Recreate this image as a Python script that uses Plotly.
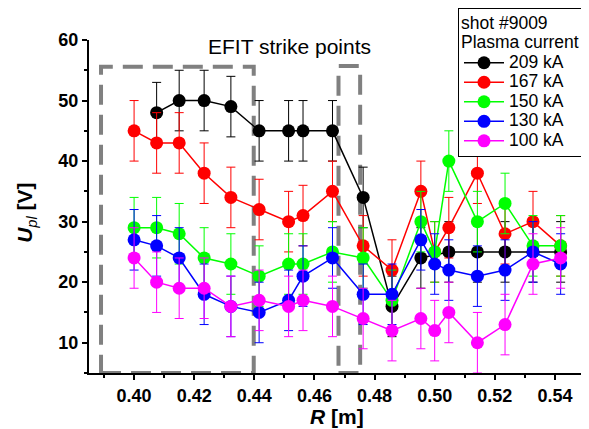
import plotly.graph_objects as go

# R positions (m)
R_all = [0.400, 0.4075, 0.415, 0.4233, 0.4322, 0.4416, 0.4514, 0.4562, 0.466,
         0.4762, 0.4858, 0.4954, 0.500, 0.5047, 0.5142, 0.5234, 0.5327, 0.5419]
R_209 = [0.4075, 0.415, 0.4233, 0.4322, 0.4416, 0.4514, 0.4562, 0.466,
         0.4762, 0.4858, 0.4954, 0.5047, 0.5142, 0.5234, 0.5327, 0.5419]

U_209 = [48, 50, 50, 49, 45, 45, 45, 45, 34, 16, 24, 25, 25, 25, 25, 25]
U_167 = [45, 43, 43, 38, 34, 32, 30, 31, 35, 26, 22, 35, 25, 29, 38, 28, 30, 26]
U_150 = [29, 29, 28, 24, 23, 21, 23, 23, 25, 24, 17, 30, 25, 40, 30, 33, 26, 26]
U_130 = [27, 26, 24, 18, 16, 15, 17, 21, 24, 18, 18, 27, 23, 22, 21, 22, 25, 23]
U_100 = [24, 20, 19, 19, 16, 17, 16, 17, 16, 14, 12, 14, 12, 15, 10, 13, 23, 24]

ERR_209 = [5] * len(U_209)
ERR_ALL = [5] * len(R_all)

labels = ["209 kA", "167 kA", "150 kA", "130 kA", "100 kA"]
colors = ["#000000", "#ff0000", "#00ff00", "#0000ff", "#ff00ff"]

# EFIT strike point boxes (R range, U range)
box_R0 = [0.389, 0.468]
box_R1 = [0.4398, 0.4752]
box_U0 = [5, 5]
box_U1 = [55.6, 55.7]

series = [
    (R_209, U_209, ERR_209),
    (R_all, U_167, ERR_ALL),
    (R_all, U_150, ERR_ALL),
    (R_all, U_130, ERR_ALL),
    (R_all, U_100, ERR_ALL),
]

FONT = "Liberation Sans, Arial, sans-serif"
PAD = "\u00a0" * 4

fig = go.Figure()
for (xs, ys, es), lab, col in zip(series, labels, colors):
    fig.add_trace(go.Scatter(
        x=xs, y=ys, mode="lines+markers",
        name='<span style="font-size:17.5px">' + lab + PAD + "</span>",
        line=dict(color=col, width=1.5),
        marker=dict(color=col, size=13),
        error_y=dict(type="data", array=es, visible=True, color=col,
                     thickness=1, width=4.5),
        cliponaxis=True,
    ))

for x0, x1, y0, y1 in zip(box_R0, box_R1, box_U0, box_U1):
    fig.add_shape(type="rect", xref="x", yref="y", x0=x0, x1=x1, y0=y0, y1=y1,
                  line=dict(color="#808080", width=4, dash="20px,10px"),
                  layer="below")

fig.add_annotation(text="EFIT strike points", xref="paper", yref="paper",
                   x=0.405, y=0.98, xanchor="center", yanchor="middle",
                   showarrow=False, font=dict(family=FONT, size=21, color="black"))

# axis titles
fig.add_annotation(text="<b><i>R</i> [m]</b>", xref="paper", yref="paper",
                   x=0.5, y=0, xanchor="center", yanchor="middle", yshift=-43,
                   showarrow=False, font=dict(family=FONT, size=21, color="black"))
fig.add_annotation(text="<b><i>U</i></b><sub><i>pl</i></sub><b> [V]</b>",
                   xref="paper", yref="paper", x=0, y=0.481, xanchor="center",
                   yanchor="middle", xshift=-63, textangle=-90,
                   showarrow=False, font=dict(family=FONT, size=21, color="black"))

axis_font = dict(family=FONT, size=18, color="black", weight="bold")

fig.update_layout(
    width=581, height=421,
    margin=dict(l=81, r=4, t=32, b=56, autoexpand=False),
    paper_bgcolor="white", plot_bgcolor="white",
    font=dict(family=FONT, color="black"),
    showlegend=True,
    legend=dict(
        xref="container", yref="container",
        x=1, y=1, xanchor="right", yanchor="top",
        bordercolor="black", borderwidth=1, bgcolor="white",
        font=dict(family=FONT, size=12.7, color="black"),
        title=dict(text='<span style="font-size:17.5px">shot #9009<br>Plasma current</span>',
                   font=dict(family=FONT, size=15)),
        tracegroupgap=0, itemwidth=40,
    ),
    xaxis=dict(
        range=[0.385, 0.55], showgrid=False, zeroline=False, automargin=False,
        showline=True, linecolor="black", linewidth=2,
        ticks="outside", ticklen=5, tickwidth=2, tickcolor="black",
        tick0=0.40, dtick=0.02, tickformat=".2f", tickfont=axis_font,
        minor=dict(dtick=0.01, ticks="outside", ticklen=3, tickwidth=1.5, tickcolor="black"),
    ),
    yaxis=dict(
        range=[5, 60], showgrid=False, zeroline=False, automargin=False,
        showline=True, linecolor="black", linewidth=2,
        ticks="outside", ticklen=5, tickwidth=2, tickcolor="black",
        tick0=0, dtick=10, tickfont=axis_font,
        minor=dict(dtick=5, ticks="outside", ticklen=3, tickwidth=1.5, tickcolor="black"),
    ),
)

fig.write_html("out.html")
